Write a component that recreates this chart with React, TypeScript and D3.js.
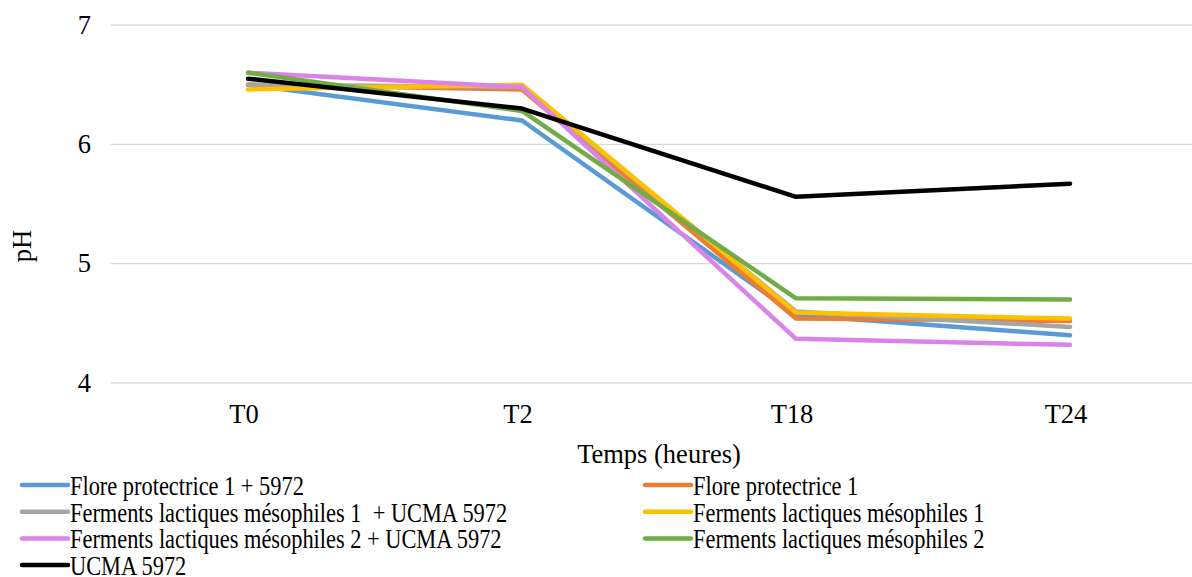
import React from "react";
import * as d3 from "d3";

const categories = ["T0", "T2", "T18", "T24"];
const seriesNames = [
  "Flore protectrice 1 + 5972",
  "Flore protectrice 1",
  "Ferments lactiques mésophiles 1  + UCMA 5972",
  "Ferments lactiques mésophiles 1",
  "Ferments lactiques mésophiles 2 + UCMA 5972",
  "Ferments lactiques mésophiles 2",
  "UCMA 5972",
];
const seriesColors = ["#5B9BD5", "#ED7D31", "#A5A5A5", "#FFC000", "#DA83E8", "#70AD47", "#000000"];
const floreProtectrice5972 = [6.5, 6.2, 4.57, 4.4];
const floreProtectrice1 = [6.5, 6.46, 4.54, 4.52];
const fermentsMeso1UCMA = [6.5, 6.48, 4.6, 4.47];
const fermentsMeso1 = [6.46, 6.5, 4.59, 4.54];
const fermentsMeso2UCMA = [6.6, 6.48, 4.37, 4.32];
const fermentsMeso2 = [6.6, 6.28, 4.71, 4.7];
const ucma5972 = [6.55, 6.3, 5.56, 5.67];
const seriesValues = [
  floreProtectrice5972,
  floreProtectrice1,
  fermentsMeso1UCMA,
  fermentsMeso1,
  fermentsMeso2UCMA,
  fermentsMeso2,
  ucma5972,
];
const yTicks = [4, 5, 6, 7];

const W = 1192;
const H = 577;
const font = '"Liberation Serif", "Times New Roman", Tinos, "DejaVu Serif", serif';
const FS = 26.5;

export default function App() {
  const x = d3.scaleBand<string>().domain(categories).range([111, 1207]);
  const y = d3.scaleLinear().domain([4, 7]).range([383, 25]);
  const line = d3
    .line<number>()
    .x((_, i) => (x(categories[i]) as number) + x.bandwidth() / 2)
    .y((d) => y(d));

  const txt = { fontFamily: font, whiteSpace: "pre" as const };
  return (
    <svg width={W} height={H} style={{ position: "absolute", left: 0, top: 0, background: "#fff" }}>
      <rect width={W} height={H} fill="#fff" />
      {yTicks.map((t) => (
        <g key={t}>
          <line x1={111} x2={1207} y1={y(t)} y2={y(t)} stroke="#D9D9D9" strokeWidth={1.3} />
          <text x={91} y={y(t)} dy="0.33em" textAnchor="end" style={txt} fontSize={FS} fill="#000">
            {t}
          </text>
        </g>
      ))}
      {categories.map((c) => (
        <text
          key={c}
          x={(x(c) as number) + x.bandwidth() / 2 - 4}
          y={423}
          textAnchor="middle"
          style={txt}
          fontSize={FS}
          fill="#000"
        >
          {c}
        </text>
      ))}
      <text x={659} y={463} textAnchor="middle" style={txt} fontSize={FS} fill="#000">
        Temps (heures)
      </text>
      <text transform={`translate(31,246) rotate(-90)`} textAnchor="middle" style={txt} fontSize={FS} fill="#000">
        pH
      </text>
      {seriesValues.map((vals, i) => (
        <path
          key={i}
          d={line(vals) || ""}
          fill="none"
          stroke={seriesColors[i]}
          strokeWidth={4.5}
          strokeLinejoin="round"
          strokeLinecap="round"
        />
      ))}
      {seriesNames.map((name, i) => {
        const col = i % 2;
        const row = Math.floor(i / 2);
        const lx = col === 0 ? 22 : 645;
        const ly = 485 + row * 26.7;
        return (
          <g key={name}>
            <line x1={lx} x2={lx + 46} y1={ly} y2={ly} stroke={seriesColors[i]} strokeWidth={4.5} strokeLinecap="round" />
            <g transform={`translate(${lx + 48},${ly + 10}) scale(0.845,1)`}>
              <text x={0} y={0} style={txt} fontSize={FS} fill="#000">
                {name}
              </text>
            </g>
          </g>
        );
      })}
    </svg>
  );
}
